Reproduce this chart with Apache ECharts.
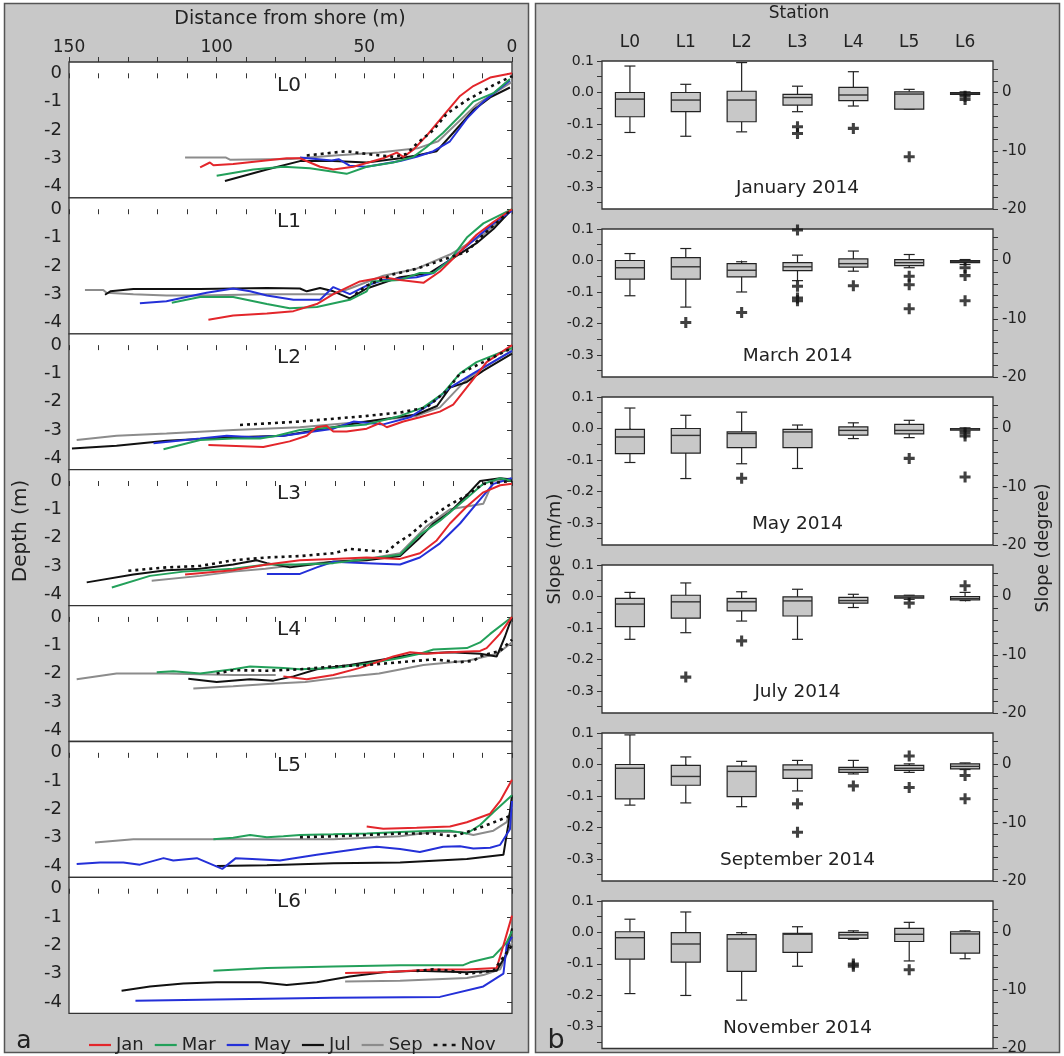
<!DOCTYPE html>
<html><head><meta charset="utf-8">
<script src="https://cdn.jsdelivr.net/npm/echarts@6/dist/echarts.min.js"></script>
<style>html,body{margin:0;padding:0;background:#fff}#c{width:1064px;height:1056px}</style>
</head><body><div id="c"></div>
<script>
// ---------------- DATA ----------------
const stations = ['L0','L1','L2','L3','L4','L5','L6'];
const months = ['Jan','Mar','May','Jul','Sep','Nov'];
const distTicks = [0,50,100,150];
const depthTicks = [0,-1,-2,-3,-4];
const slopeLabelTicks = [0.1,0,-0.1,-0.2,-0.3];
const slopeMinorTicks = [0.1,0.05,0,-0.05,-0.1,-0.15,-0.2,-0.25,-0.3,-0.35];
const degLabelTicks = [0,-10,-20];
const degMinorTicks = [4,2,0,-2,-4,-6,-8,-10,-12,-14,-16,-18,-20];
const boxTitles = ['January 2014','March 2014','May 2014','July 2014','September 2014','November 2014'];

// Depth profiles [distance from shore (m), depth (m)]
const L0_Jan = [[105.6,-3.32],[102.3,-3.15],[101.1,-3.25],[94.4,-3.2],[76.3,-3.0],[71.8,-3.0],[65,-3.3],[60.5,-3.4],[53.7,-3.3],[43.6,-3.0],[39,-2.8],[36.8,-2.95],[33.4,-2.7],[28.9,-2.2],[23.3,-1.5],[17.6,-0.8],[13.1,-0.45],[7.4,-0.15],[0,0]];
const L0_Mar = [[100,-3.62],[87.6,-3.4],[77.4,-3.3],[68.4,-3.35],[56,-3.55],[49.2,-3.3],[40.2,-3.15],[33.4,-2.95],[28.9,-2.6],[23.3,-2.1],[17.6,-1.5],[13.1,-1.0],[6.3,-0.7],[0.7,-0.2]];
const L0_May = [[71.8,-2.97],[61,-3.08],[58.7,-3.03],[55,-3.26],[49.2,-3.3],[37.9,-3.1],[32.3,-2.95],[26.6,-2.75],[21,-2.4],[15.3,-1.6],[9.7,-1.0],[0.7,-0.25]];
const L0_Jul = [[97.2,-3.8],[83,-3.4],[71.8,-3.1],[60.5,-3.1],[49.2,-3.15],[37.9,-3.0],[32.3,-2.9],[25.5,-2.75],[19.9,-2.1],[13.1,-1.3],[7.4,-0.85],[0.7,-0.5]];
const L0_Sep = [[110.7,-2.97],[97,-2.97],[95.5,-3.05],[75,-3.03],[60,-2.9],[45,-2.8],[32,-2.65],[25,-2.4],[18,-1.7],[12,-1.1],[6,-0.7],[0,-0.3]];
const L0_Nov = [[69.5,-2.9],[56,-2.75],[49.2,-2.85],[40.2,-2.95],[35.7,-2.85],[32.3,-2.49],[26.6,-2.0],[22,-1.42],[15.3,-0.95],[6.3,-0.42],[0,-0.1]];

const L1_Jan = [[102.8,-3.9],[94.4,-3.75],[83,-3.68],[74,-3.6],[66.1,-3.35],[60.5,-3.0],[51.5,-2.55],[43.6,-2.4],[37.9,-2.5],[30,-2.6],[24.4,-2.2],[17.6,-1.5],[12,-0.9],[6.3,-0.45],[0,0]];
const L1_Mar = [[115.2,-3.3],[105.6,-3.1],[94.4,-3.1],[83,-3.35],[75.3,-3.5],[66.1,-3.45],[54.9,-3.2],[49.2,-2.9],[47.5,-2.55],[37.9,-2.5],[31.2,-2.25],[26.6,-2.25],[21,-1.8],[15.3,-1.0],[9.7,-0.5],[0,0]];
const L1_May = [[126,-3.32],[117,-3.25],[110.3,-3.1],[103.4,-2.95],[94.4,-2.8],[88.7,-2.9],[83,-3.05],[74,-3.2],[65,-3.2],[60.5,-2.75],[57.1,-2.9],[54.9,-3.0],[49.2,-2.7],[43.6,-2.5],[32.3,-2.4],[26.6,-2.25],[15.3,-1.3],[6.3,-0.5],[0,-0.05]];
const L1_Jul = [[137.8,-3.02],[136,-2.9],[128.2,-2.82],[105.6,-2.82],[83,-2.78],[71.8,-2.8],[69.5,-2.9],[65,-2.78],[60.5,-2.9],[54.9,-3.15],[49.2,-2.8],[37.9,-2.4],[27.8,-2.25],[21,-1.8],[12,-1.2],[6.3,-0.7],[0,0]];
const L1_Sep = [[144.6,-2.85],[138.4,-2.85],[137.3,-2.95],[128.2,-3.0],[117,-3.05],[105.6,-3.05],[83,-3.0],[60.5,-3.0],[54.9,-2.8],[43.6,-2.35],[32.3,-2.1],[21,-1.6],[9.7,-0.9],[0,0]];
const L1_Nov = [[53,-3.0],[49.2,-2.7],[40.2,-2.3],[32.3,-2.1],[21,-1.7],[15.3,-1.5],[9.7,-0.9],[0,0]];

const L2_Jan = [[102.8,-3.53],[84.2,-3.6],[75.3,-3.4],[69.5,-3.2],[66.1,-2.9],[62.8,-2.85],[60.5,-3.05],[56,-3.05],[49.2,-2.95],[44.7,-2.75],[42.4,-2.9],[36.8,-2.7],[31.2,-2.55],[24.4,-2.35],[19.9,-2.1],[13.1,-1.2],[8.6,-0.6],[0,0]];
const L2_Mar = [[118,-3.68],[105.6,-3.35],[94.4,-3.3],[85.3,-3.3],[79.7,-3.2],[71.8,-3.0],[60.5,-2.9],[49.2,-2.8],[37.9,-2.5],[30,-2.2],[23.3,-1.7],[17.6,-1.0],[12,-0.6],[0,-0.1]];
const L2_May = [[121.4,-3.47],[105.6,-3.3],[96.6,-3.2],[87.6,-3.25],[77.4,-3.2],[60.5,-2.95],[53.7,-2.7],[43.6,-2.8],[34.5,-2.55],[26.6,-2.0],[21,-1.5],[13.1,-1.0],[0,-0.2]];
const L2_Jul = [[149,-3.65],[133.9,-3.55],[117,-3.38],[94.4,-3.25],[77.4,-3.2],[60.5,-2.9],[49.2,-2.7],[32.3,-2.45],[25.4,-2.15],[21,-1.5],[15.3,-1.3],[9.7,-0.9],[0,-0.3]];
const L2_Sep = [[147.4,-3.35],[133.9,-3.2],[117,-3.12],[94.4,-3.0],[71.8,-2.9],[49.2,-2.7],[32.3,-2.5],[24.4,-2.2],[15.3,-1.2],[9.7,-0.8],[0,-0.2]];
const L2_Nov = [[92.1,-2.82],[71.8,-2.7],[60.5,-2.6],[49.2,-2.5],[37.9,-2.38],[28.9,-2.2],[22,-1.6],[17.6,-1.0],[9.7,-0.6],[0,-0.1]];

const L3_Jan = [[110.7,-3.3],[94.4,-3.15],[83,-2.95],[71.8,-2.8],[60.5,-2.75],[49.2,-2.7],[37.9,-2.75],[31.2,-2.55],[25.5,-2.1],[21,-1.5],[15.3,-0.9],[9.7,-0.4],[4,-0.15],[0,-0.1]];
const L3_Mar = [[135.5,-3.76],[122.6,-3.35],[111.3,-3.2],[94.4,-3.1],[83,-2.95],[71.8,-2.95],[60.5,-2.9],[49.2,-2.75],[37.9,-2.6],[31.2,-1.9],[24.4,-1.4],[15.3,-0.6],[9.7,-0.1],[4,0.1],[0,0]];
const L3_May = [[83,-3.28],[71.8,-3.28],[66.1,-3.05],[60.5,-2.85],[49.2,-2.9],[37.9,-2.95],[31.2,-2.7],[24.4,-2.2],[17.6,-1.5],[12,-0.8],[6.3,-0.1],[0,0.1]];
const L3_Jul = [[144,-3.58],[128.2,-3.3],[117,-3.15],[105.6,-3.1],[94.4,-2.95],[86.5,-2.8],[83,-2.9],[75.2,-3.05],[60.5,-2.85],[49.2,-2.8],[37.9,-2.65],[31.2,-2.0],[26.6,-1.5],[21,-1.1],[15.3,-0.5],[10.8,0.0],[4,0.1],[0,0.05]];
const L3_Sep = [[122,-3.52],[105.6,-3.35],[94.4,-3.2],[83.5,-3.1],[71.8,-2.95],[60.5,-2.85],[49.2,-2.75],[37.9,-2.55],[28.9,-1.6],[21,-1.0],[9.7,-0.8],[6.3,0.0],[0,0.1]];
const L3_Nov = [[129.9,-3.17],[117,-3.05],[105.6,-3.0],[94.4,-2.8],[83,-2.7],[71.8,-2.65],[60.5,-2.55],[54.9,-2.4],[49.2,-2.45],[42.4,-2.5],[39,-2.2],[34.5,-1.9],[28.9,-1.4],[22.1,-0.9],[15.3,-0.5],[9.7,-0.1],[0,0]];

const L4_Jan = [[77.4,-2.1],[69.5,-2.2],[60.5,-2.05],[51.5,-1.8],[45.8,-1.6],[40.2,-1.4],[34.5,-1.25],[28.9,-1.3],[21,-1.25],[10.8,-1.2],[8.6,-1.1],[4.1,-0.6],[0,0]];
const L4_Mar = [[120.3,-1.95],[114.7,-1.92],[105.6,-2.0],[94.4,-1.85],[88.7,-1.75],[77.4,-1.8],[71.8,-1.85],[60.5,-1.8],[49.2,-1.65],[37.9,-1.45],[31.2,-1.3],[26.6,-1.15],[15.3,-1.1],[10.8,-0.9],[7.4,-0.6],[0,0]];
const L4_May = null;
const L4_Jul = [[109.6,-2.18],[100,-2.3],[88.7,-2.2],[80.8,-2.25],[74,-2.1],[66.1,-1.85],[54.9,-1.7],[43.6,-1.5],[32.3,-1.3],[21,-1.25],[10.8,-1.3],[5.2,-1.4],[2.4,-0.7],[0,0]];
const L4_Sep = [[147.4,-2.2],[133.9,-2.0],[117,-2.0],[94.4,-2.05],[80,-2.05]];
const L4_Sep2 = [[107.9,-2.53],[94.4,-2.45],[80,-2.35],[70,-2.3],[55,-2.1],[45,-2.0],[30,-1.7],[15,-1.55],[5,-1.3],[0,-0.9]];
const L4_Nov = [[100,-2.0],[94.4,-1.88],[83,-1.9],[71.8,-1.85],[60.5,-1.75],[49.2,-1.7],[37.9,-1.6],[26.6,-1.5],[17.6,-1.6],[13.1,-1.55],[9.7,-1.35],[4,-1.2],[0,-0.8]];

const L5_Jan = [[49.2,-2.6],[43.6,-2.68],[32.3,-2.65],[21,-2.6],[15.3,-2.45],[7.4,-2.15],[4,-1.7],[0,-0.95]];
const L5_Mar = [[101.1,-3.05],[94.4,-3.0],[88.7,-2.9],[83,-2.98],[77.4,-2.95],[71.8,-2.9],[60.5,-2.88],[49.2,-2.85],[37.9,-2.8],[26.6,-2.75],[21,-2.75],[15.3,-2.85],[10.8,-2.55],[6.3,-2.1],[0,-1.5]];
const L5_May = [[147.4,-3.93],[139.5,-3.87],[131.6,-3.87],[126,-3.95],[118,-3.72],[114.7,-3.8],[106.7,-3.72],[98.1,-4.1],[93.5,-3.72],[88,-3.75],[78.6,-3.8],[66.1,-3.6],[49.2,-3.35],[45.8,-3.32],[37.9,-3.4],[31.2,-3.5],[23.3,-3.32],[17.6,-3.3],[13.1,-3.38],[7.4,-3.35],[4,-3.25],[0.7,-2.7],[0,-1.7]];
const L5_Jul = [[100,-4.0],[83,-3.97],[60.5,-3.9],[37.9,-3.87],[15.3,-3.75],[2.9,-3.6],[1.2,-2.5],[0,-1.5]];
const L5_Sep = [[141.2,-3.17],[128.2,-3.05],[105.6,-3.05],[83,-3.05],[60.5,-3.05],[49.2,-3.0],[37.9,-2.95],[26.6,-2.8],[17.6,-2.8],[13.1,-2.9],[6.3,-2.75],[1.8,-2.45],[0,-1.9]];
const L5_Nov = [[71.8,-2.98],[60.5,-2.95],[49.2,-2.9],[37.9,-2.85],[26.6,-2.85],[19.9,-2.95],[15.3,-2.8],[9.7,-2.6],[0,-2.2]];

const L6_Jan = [[56.5,-2.98],[43.6,-2.95],[26.6,-2.85],[15.3,-2.85],[5.2,-2.8],[2.9,-2.0],[0,-0.95]];
const L6_Mar = [[101.1,-2.9],[83,-2.8],[60.5,-2.75],[37.9,-2.7],[16.5,-2.7],[14.2,-2.6],[6.3,-2.4],[1.8,-1.9],[0,-1.5]];
const L6_May = [[127.5,-3.96],[94.4,-3.9],[60.5,-3.85],[24.4,-3.82],[9.7,-3.45],[2.9,-3.0],[1.8,-2.0],[0,-1.7]];
const L6_Jul = [[132.2,-3.6],[122.6,-3.45],[111.3,-3.35],[100,-3.3],[85.3,-3.3],[76.3,-3.4],[66.1,-3.3],[54.9,-3.1],[43.6,-2.95],[32.3,-2.9],[15.3,-2.95],[5.2,-2.9],[1.8,-2.3],[0,-1.4]];
const L6_Sep = [[56.5,-3.28],[37.9,-3.25],[15.3,-3.15],[9.7,-3.05],[4,-2.85],[0,-1.9]];
const L6_Nov = [[32.3,-2.9],[26.6,-2.85],[21,-2.9],[15.3,-3.0],[6.3,-2.9],[0,-2.0]];

// Box statistics per station: [lower whisker, Q1, median, Q3, upper whisker]
const box_Jan = [[-0.127,-0.077,-0.021,0.0,0.084],[-0.139,-0.061,-0.024,0.0,0.026],[-0.125,-0.093,-0.024,0.004,0.095],[-0.061,-0.04,-0.016,-0.006,0.02],[-0.043,-0.026,-0.008,0.016,0.066],[-0.053,-0.053,-0.005,0.002,0.01],[-0.008,-0.006,-0.003,0.0,0.002]];
const box_Mar = [[-0.112,-0.059,-0.023,0.0,0.022],[-0.148,-0.059,-0.02,0.009,0.038],[-0.1,-0.052,-0.031,-0.01,-0.004],[-0.064,-0.032,-0.02,-0.007,0.017],[-0.034,-0.021,-0.01,0.005,0.03],[-0.023,-0.016,-0.007,0.003,0.019],[-0.013,-0.007,-0.003,0.0,0.003]];
const box_May = [[-0.108,-0.08,-0.027,-0.003,0.065],[-0.159,-0.078,-0.022,0.0,0.042],[-0.112,-0.061,-0.016,-0.011,0.052],[-0.127,-0.061,-0.011,-0.003,0.011],[-0.032,-0.021,-0.006,0.005,0.018],[-0.029,-0.017,-0.006,0.013,0.026],[-0.008,-0.005,-0.002,0.0,0.002]];
const box_Jul = [[-0.136,-0.096,-0.024,-0.006,0.013],[-0.115,-0.069,-0.017,0.004,0.043],[-0.078,-0.046,-0.017,-0.006,0.015],[-0.136,-0.062,-0.014,-0.001,0.023],[-0.035,-0.021,-0.013,-0.003,0.007],[-0.009,-0.005,-0.002,0.002,0.004],[-0.013,-0.011,-0.006,0.0,0.013]];
const box_Sep = [[-0.129,-0.109,-0.012,0.0,0.094],[-0.122,-0.066,-0.038,-0.003,0.024],[-0.134,-0.102,-0.022,-0.005,0.01],[-0.084,-0.044,-0.017,-0.001,0.013],[-0.03,-0.025,-0.016,-0.009,0.013],[-0.025,-0.019,-0.012,-0.003,0.002],[-0.016,-0.014,-0.006,0.002,0.005]];
const box_Nov = [[-0.195,-0.085,-0.017,0.002,0.042],[-0.201,-0.095,-0.037,-0.001,0.065],[-0.216,-0.124,-0.021,-0.007,-0.001],[-0.108,-0.064,-0.006,-0.003,0.018],[-0.022,-0.019,-0.008,0.0,0.005],[-0.091,-0.029,-0.006,0.013,0.032],[-0.084,-0.066,-0.005,0.002,0.005]];

// Outliers [station index, slope]
const out_Jan = [[1,0.106],[3,-0.109],[3,-0.13],[4,-0.114],[5,-0.204],[6,-0.012],[6,-0.022]];
const out_Mar = [[1,-0.197],[2,-0.165],[3,0.097],[3,-0.082],[3,-0.119],[3,-0.128],[4,-0.08],[5,-0.05],[5,-0.077],[5,-0.153],[6,-0.023],[6,-0.048],[6,-0.128]];
const out_May = [[2,-0.158],[5,-0.095],[6,-0.014],[6,-0.024],[6,-0.154]];
const out_Jul = [[1,-0.256],[2,-0.141],[5,-0.021],[6,0.034]];
const out_Sep = [[3,-0.125],[3,-0.215],[4,-0.068],[5,0.027],[5,-0.073],[6,-0.035],[6,-0.109]];
const out_Nov = [[4,-0.101],[4,-0.108],[5,-0.119]];

// ---------------- BUILD ----------------
const profiles = [
  [L0_Jan,L0_Mar,L0_May,L0_Jul,L0_Sep,L0_Nov],
  [L1_Jan,L1_Mar,L1_May,L1_Jul,L1_Sep,L1_Nov],
  [L2_Jan,L2_Mar,L2_May,L2_Jul,L2_Sep,L2_Nov],
  [L3_Jan,L3_Mar,L3_May,L3_Jul,L3_Sep,L3_Nov],
  [L4_Jan,L4_Mar,L4_May,L4_Jul,L4_Sep,L4_Nov],
  [L5_Jan,L5_Mar,L5_May,L5_Jul,L5_Sep,L5_Nov],
  [L6_Jan,L6_Mar,L6_May,L6_Jul,L6_Sep,L6_Nov]
];
const extraLines = [{station:4, month:'Sep', data:L4_Sep2}];
const boxes = [box_Jan,box_Mar,box_May,box_Jul,box_Sep,box_Nov];
const outliers = [out_Jan,out_Mar,out_May,out_Jul,out_Sep,out_Nov];

const FONT = 'DejaVu Sans';
const ink = '#222';
const colors = {Jan:'#e3262b', Mar:'#23a05a', May:'#2430d8', Jul:'#111111', Sep:'#8c8c8c', Nov:'#111111'};
const drawOrder = ['Sep','Jul','May','Mar','Jan','Nov'];

const grids=[], xAxes=[], yAxes=[], series=[], graphics=[];
const lt = {color:'#333', width:1};

// left panel
const LTOP=62, LH=135.9, LLEFT=69, LW=443;
stations.forEach((st,i)=>{
  grids.push({left:LLEFT, top:LTOP+i*LH, width:LW, height:LH, show:true, backgroundColor:'#fff', borderColor:'#333', borderWidth:1.3, containLabel:false});
  const xi = xAxes.length;
  xAxes.push({gridIndex:i, type:'value', inverse:true, min:0, max:150, interval:10, position:'bottom',
    axisLine:{show:false}, axisTick:{show:true, length:5, lineStyle:lt}, axisLabel:{show:false}, splitLine:{show:false}});
  const yi = yAxes.length;
  yAxes.push({gridIndex:i, type:'value', min:-4.4, max:0.4,
    axisLine:{show:false}, axisTick:{show:true, length:5, customValues:depthTicks, lineStyle:lt},
    axisLabel:{show:true, customValues:depthTicks, fontSize:18, margin:7, color:ink, fontFamily:FONT},
    splitLine:{show:false}});
  drawOrder.forEach(m=>{
    const data = profiles[i][months.indexOf(m)];
    if(!data) return;
    series.push({type:'line', name:m, xAxisIndex:xi, yAxisIndex:yi, data:data, symbol:'none', showSymbol:false,
      color:colors[m], lineStyle:{color:colors[m], width: m==='Nov'?2.6:2, type: m==='Nov'?[3,4]:'solid'}, silent:true, animation:false});
  });
  extraLines.filter(e=>e.station===i).forEach(e=>{
    series.push({type:'line', name:e.month, xAxisIndex:xi, yAxisIndex:yi, data:e.data, symbol:'none', showSymbol:false,
      color:colors[e.month], lineStyle:{color:colors[e.month], width:2}, silent:true, animation:false, z:1});
  });
  graphics.push({type:'text', x:289, y:LTOP+i*LH+24, style:{text:st, fontSize:20, fontFamily:FONT, fill:ink, align:'center', verticalAlign:'middle'}});
});
// top distance axis
xAxes.push({gridIndex:0, type:'value', inverse:true, min:0, max:150, interval:10, position:'top',
  axisLine:{show:false}, axisTick:{show:true, length:5, lineStyle:lt},
  axisLabel:{show:true, customValues:distTicks, fontSize:17, margin:6, color:ink, fontFamily:FONT}, splitLine:{show:false}});

// right panel
const RTOP=61, RSTEP=168, RH=148, RLEFT=602, RW=391;
const plusPath = 'path://M3.6,0H6.4V3.6H10V6.4H6.4V10H3.6V6.4H0V3.6H3.6Z';
boxTitles.forEach((t,j)=>{
  const gi = grids.length;
  grids.push({left:RLEFT, top:RTOP+j*RSTEP, width:RW, height:RH, show:true, backgroundColor:'#fff', borderColor:'#333', borderWidth:1.3});
  const xi = xAxes.length;
  xAxes.push({gridIndex:gi, type:'category', data:stations, position:'bottom', boundaryGap:true,
    axisLine:{show:false}, axisTick:{show:true, alignWithLabel:true, length:5, lineStyle:lt}, axisLabel:{show:false}, splitLine:{show:false}});
  const yi = yAxes.length;
  yAxes.push({gridIndex:gi, type:'value', min:-0.37, max:0.1, position:'left',
    axisLine:{show:false}, axisTick:{show:true, length:5, customValues:slopeMinorTicks, lineStyle:lt},
    axisLabel:{show:true, customValues:slopeLabelTicks, fontSize:14, margin:8, color:ink, fontFamily:FONT, formatter:v=>(Math.abs(v)<1e-9?0:v).toFixed(1)},
    splitLine:{show:false}});
  yAxes.push({gridIndex:gi, type:'value', min:-20, max:5.41, position:'right',
    axisLine:{show:false}, axisTick:{show:true, length:5, customValues:degMinorTicks, lineStyle:lt},
    axisLabel:{show:true, customValues:degLabelTicks, fontSize:15, margin:9, color:ink, fontFamily:FONT},
    splitLine:{show:false}});
  const bdata = boxes[j].map((b,k)=>[k,b[0],b[1],b[2],b[3],b[4]]);
  series.push({type:'custom', xAxisIndex:xi, yAxisIndex:yi, data:bdata, encode:{x:0,y:[1,2,3,4,5]}, silent:true, animation:false,
    renderItem:(params,api)=>{
      const c=api.value(0);
      const lo=api.coord([c,api.value(1)]), q1=api.coord([c,api.value(2)]), md=api.coord([c,api.value(3)]), q3=api.coord([c,api.value(4)]), hi=api.coord([c,api.value(5)]);
      const x=lo[0], bw=29, cw=5.5, ls={stroke:'#222', lineWidth:1.2};
      return {type:'group', children:[
        {type:'line', shape:{x1:x,y1:hi[1],x2:x,y2:q3[1]}, style:ls},
        {type:'line', shape:{x1:x,y1:q1[1],x2:x,y2:lo[1]}, style:ls},
        {type:'line', shape:{x1:x-cw,y1:hi[1],x2:x+cw,y2:hi[1]}, style:ls},
        {type:'line', shape:{x1:x-cw,y1:lo[1],x2:x+cw,y2:lo[1]}, style:ls},
        {type:'rect', shape:{x:x-bw/2,y:q3[1],width:bw,height:Math.max(q1[1]-q3[1],1.5)}, style:{fill:'#c8c8c8', stroke:'#222', lineWidth:1.2}},
        {type:'line', shape:{x1:x-bw/2,y1:md[1],x2:x+bw/2,y2:md[1]}, style:{stroke:'#333', lineWidth:1.4}}
      ]};
    }});
  series.push({type:'scatter', xAxisIndex:xi, yAxisIndex:yi, data:outliers[j], symbol:plusPath, symbolSize:11,
    itemStyle:{color:'#111'}, silent:true, animation:false, z:5});
  graphics.push({type:'text', x:RLEFT+RW/2, y:RTOP+j*RSTEP+127, style:{text:t, fontSize:18.5, fontFamily:FONT, fill:ink, align:'center', verticalAlign:'middle'}});
});
// top station axis
xAxes.push({gridIndex:7, type:'category', data:stations, position:'top', boundaryGap:true,
  axisLine:{show:false}, axisTick:{show:false}, axisLabel:{show:true, fontSize:17, margin:10, color:ink, fontFamily:FONT}, splitLine:{show:false}});

// panels & texts
graphics.unshift(
  {type:'rect', shape:{x:4.5,y:3.5,width:524,height:1049}, style:{fill:'#c8c8c8', stroke:'#555', lineWidth:1.5}, z:-10},
  {type:'rect', shape:{x:535.5,y:3.5,width:524,height:1049}, style:{fill:'#c8c8c8', stroke:'#555', lineWidth:1.5}, z:-10}
);
graphics.push(
  {type:'text', x:290, y:19, style:{text:'Distance from shore (m)', fontSize:19, fontFamily:FONT, fill:ink, align:'center', verticalAlign:'middle'}},
  {type:'text', x:799, y:14, style:{text:'Station', fontSize:17, fontFamily:FONT, fill:ink, align:'center', verticalAlign:'middle'}},
  {type:'text', x:21, y:531, rotation:Math.PI/2, style:{text:'Depth (m)', fontSize:20, fontFamily:FONT, fill:ink, align:'center', verticalAlign:'middle'}},
  {type:'text', x:555, y:549, rotation:Math.PI/2, style:{text:'Slope (m/m)', fontSize:18, fontFamily:FONT, fill:ink, align:'center', verticalAlign:'middle'}},
  {type:'text', x:1043, y:548, rotation:Math.PI/2, style:{text:'Slope (degree)', fontSize:17.5, fontFamily:FONT, fill:ink, align:'center', verticalAlign:'middle'}},
  {type:'text', x:24, y:1041, style:{text:'a', fontSize:25, fontFamily:FONT, fill:ink, align:'center', verticalAlign:'middle'}},
  {type:'text', x:556, y:1041, style:{text:'b', fontSize:27, fontFamily:FONT, fill:ink, align:'center', verticalAlign:'middle'}}
);

const solidIcon = 'path://M0,0H20V2H0Z';
const dotIcon = 'path://M0,0H3V2H0Z M7,0H10V2H7Z M14,0H17V2H14Z';
const chart = echarts.init(document.getElementById('c'), null, {renderer:'canvas'});
chart.setOption({
  animation:false,
  backgroundColor:'#fff',
  textStyle:{fontFamily:FONT},
  grid:grids, xAxis:xAxes, yAxis:yAxes, series:series,
  legend:{data:months.map(m=>({name:m, icon: m==='Nov'?dotIcon:solidIcon})), left:84, top:1031, itemWidth:22, itemHeight:10, itemGap:11,
    textStyle:{fontSize:18, color:ink, fontFamily:FONT}, selectedMode:false},
  graphic:graphics
});
</script></body></html>
